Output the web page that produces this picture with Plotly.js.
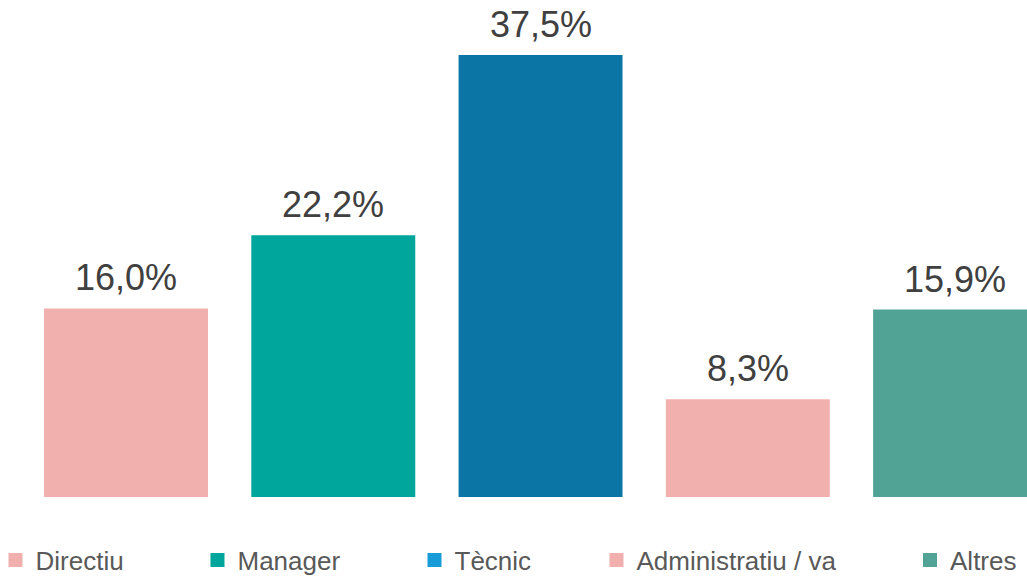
<!DOCTYPE html>
<html>
<head>
<meta charset="utf-8">
<script src="https://cdn.plot.ly/plotly-3.0.1.min.js"></script>
<style>
html,body{margin:0;padding:0;background:#fff;}
#chart{width:1027px;height:576px;}
</style>
</head>
<body>
<div id="chart"></div>
<script>
const categories = ['Directiu', 'Manager', 'Tècnic', 'Administratiu / va', 'Altres'];
const values = [16.0, 22.2, 37.5, 8.3, 15.9];
const barColors = ['#F1AFAE', '#00A59B', '#0B76A5', '#F1AFAE', '#50A395'];
const legendColors = ['#F1AFAE', '#00A59B', '#179CD8', '#F1AFAE', '#50A395'];
const legendX = [-0.0044, 0.1923, 0.4036, 0.5808, 0.8861];

const FONT = 'Liberation Sans, Arial, sans-serif';
const traces = [];
const layout = {
  width: 1027, height: 576,
  margin: {l: 0, r: 0, t: 0, b: 79, pad: 0, autoexpand: false},
  paper_bgcolor: '#ffffff', plot_bgcolor: '#ffffff',
  barmode: 'overlay',
  showlegend: true,
  xaxis: {visible: false, range: [-0.608, 4.347], fixedrange: true},
  yaxis: {visible: false, range: [0, 42.165], fixedrange: true},
  annotations: [],
  font: {family: FONT}
};

categories.forEach((c, i) => {
  traces.push({
    type: 'bar', x: [i], y: [values[i]], width: 0.791,
    marker: {color: barColors[i], line: {width: 0}},
    name: c, showlegend: false, hoverinfo: 'skip'
  });
  const lg = i === 0 ? 'legend' : 'legend' + (i + 1);
  traces.push({
    type: 'bar', x: [null], y: [null],
    marker: {color: legendColors[i], line: {color: legendColors[i], width: 2}},
    name: c, showlegend: true, legend: lg, hoverinfo: 'skip'
  });
  layout[lg] = {
    x: legendX[i], xanchor: 'left', y: -0.1268, yanchor: 'middle',
    bgcolor: 'rgba(0,0,0,0)', borderwidth: 0,
    font: {family: FONT, size: 26, color: '#595959'}
  };
  layout.annotations.push({
    x: i, y: values[i], xref: 'x', yref: 'y',
    text: values[i].toFixed(1).replace('.', ',') + '%',
    showarrow: false, yanchor: 'bottom', yshift: 8,
    font: {family: FONT, size: 36, color: '#404040'}
  });
});

Plotly.newPlot('chart', traces, layout, {displayModeBar: false, staticPlot: true});
</script>
</body>
</html>
